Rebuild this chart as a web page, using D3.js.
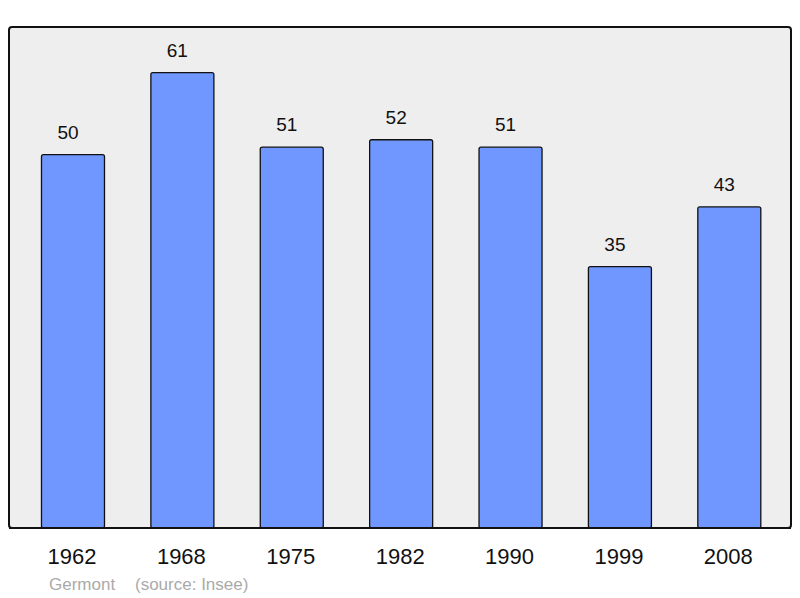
<!DOCTYPE html>
<html><head><meta charset="utf-8">
<script src="https://cdn.jsdelivr.net/npm/d3@7"></script>
<style>body{margin:0;background:#fff}svg{display:block}</style>
</head><body>
<script>
const years = ["1962","1968","1975","1982","1990","1999","2008"];
const population = [50,61,51,52,51,35,43];
const footer = ["Germont","(source: Insee)"];

const W=800,H=598;
const svg=d3.select("body").append("svg").attr("width",W).attr("height",H);
const frame={x0:9,x1:791,y0:27,y1:528};
svg.append("rect").attr("x",frame.x0).attr("y",frame.y0)
  .attr("width",frame.x1-frame.x0).attr("height",frame.y1-frame.y0)
  .attr("rx",3).attr("fill","#eeeeee").attr("stroke","#111").attr("stroke-width",2);

const x=d3.scaleBand().domain(years).range([18.3,784]).paddingInner(0.424).paddingOuter(0.212);
const y=d3.scaleLinear().domain([0,d3.max(population)*1.1]).range([frame.y1,frame.y0]);

svg.selectAll("rect.bar").data(years).enter().append("rect").attr("class","bar")
  .attr("x",d=>x(d)).attr("width",x.bandwidth())
  .attr("y",(d,i)=>y(population[i])).attr("height",(d,i)=>frame.y1-y(population[i]))
  .attr("rx",2).attr("fill","#7097ff").attr("stroke","#111").attr("stroke-width",1.3);
svg.append("line").attr("x1",frame.x0).attr("x2",frame.x1).attr("y1",frame.y1).attr("y2",frame.y1)
  .attr("stroke","#111").attr("stroke-width",2);

svg.selectAll("text.val").data(years).enter().append("text").attr("class","val")
  .attr("x",d=>x(d)+x.bandwidth()/2-5).attr("y",(d,i)=>y(population[i])-16)
  .attr("text-anchor","middle").attr("font-family","Liberation Sans, Arial, sans-serif")
  .attr("font-size",19).attr("fill","#111").text((d,i)=>population[i]);

svg.selectAll("text.yr").data(years).enter().append("text").attr("class","yr")
  .attr("x",d=>x(d)+x.bandwidth()/2-1).attr("y",564)
  .attr("text-anchor","middle").attr("font-family","Liberation Sans, Arial, sans-serif")
  .attr("font-size",22).attr("fill","#111").text(d=>d);

svg.append("text").attr("x",49).attr("y",590).attr("font-family","Liberation Sans, Arial, sans-serif")
  .attr("font-size",17).attr("fill","#aaaaaa").text(footer[0]);
svg.append("text").attr("x",135).attr("y",590).attr("font-family","Liberation Sans, Arial, sans-serif")
  .attr("font-size",17).attr("fill","#aaaaaa").text(footer[1]);
</script>
</body></html>
